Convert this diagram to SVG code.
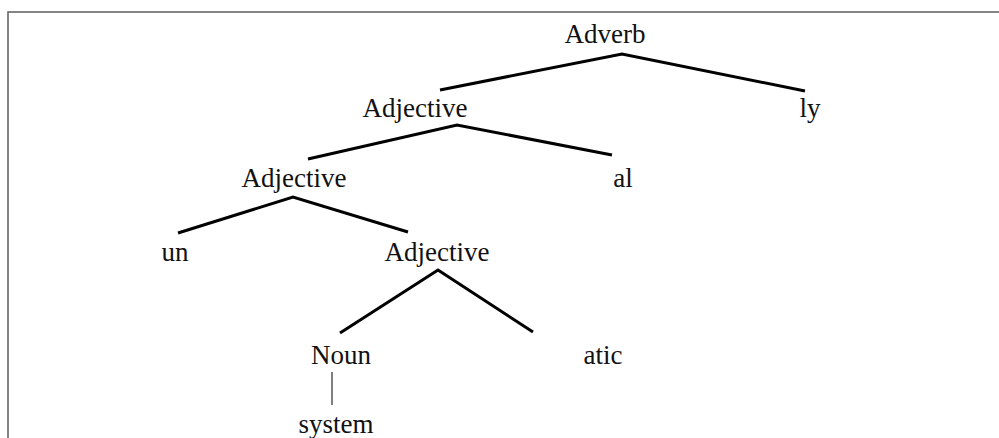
<svg xmlns="http://www.w3.org/2000/svg" width="999" height="438" viewBox="0 0 999 438">
<style>
.t{font-family:"Liberation Serif","DejaVu Serif",serif;font-size:27px;fill:#111;text-anchor:middle}
.e{stroke:#000;stroke-width:3;fill:none;stroke-linecap:butt}
.thin{stroke:#000;stroke-width:1;fill:none}
</style>
<rect x="8" y="12" width="1100" height="500" fill="#fff" stroke="#666" stroke-width="1.6"/>
<g id="connectors">
<polyline class="e" points="440,90 622,54 805,91"/>
<polyline class="e" points="308,159 457,125 612,155"/>
<polyline class="e" points="178,233 293,197 408,232"/>
<polyline class="e" points="340,333 438,270 533,332"/>
<line class="thin" x1="332" y1="372" x2="332" y2="405"/>
</g>
<g id="n-adverb"><text class="t" x="605" y="43">Adverb</text></g>
<g id="n-adj1"><text class="t" x="415" y="117">Adjective</text></g>
<g id="n-ly"><text class="t" x="810" y="117">ly</text></g>
<g id="n-adj2"><text class="t" x="294" y="187">Adjective</text></g>
<g id="n-al"><text class="t" x="623" y="187">al</text></g>
<g id="n-un"><text class="t" x="175" y="261">un</text></g>
<g id="n-adj3"><text class="t" x="437" y="261">Adjective</text></g>
<g id="n-noun"><text class="t" x="341" y="364">Noun</text></g>
<g id="n-atic"><text class="t" x="603" y="364">atic</text></g>
<g id="n-system"><text class="t" x="336" y="433">system</text></g>
</svg>
